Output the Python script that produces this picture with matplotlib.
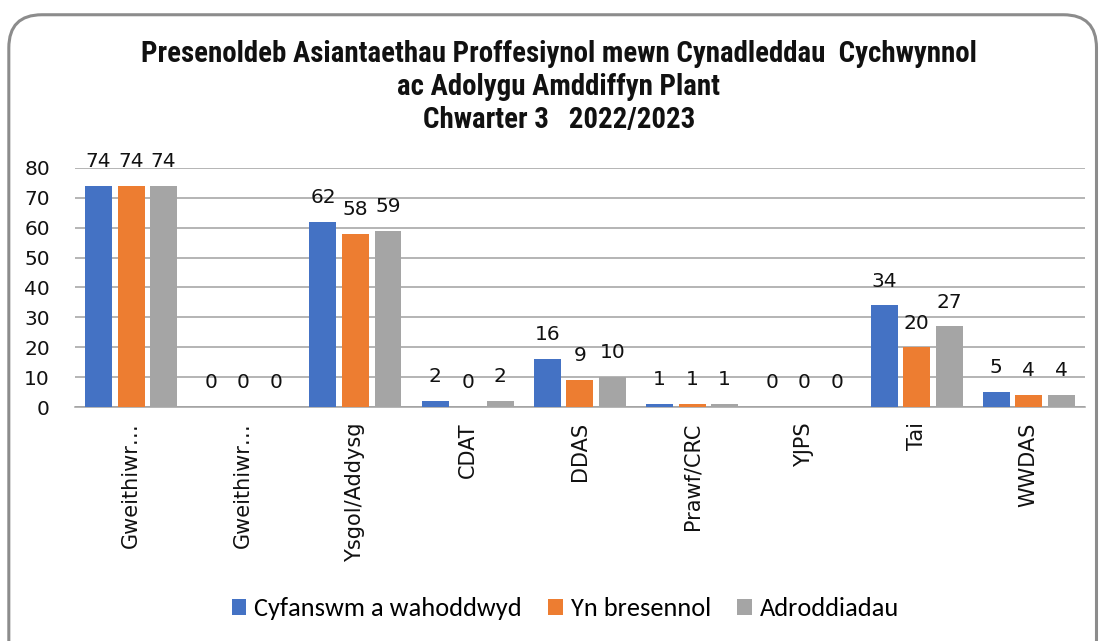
import numpy as np
import matplotlib.pyplot as plt
from matplotlib.patches import FancyBboxPatch

# data
categories = ["Gweithiwr…", "Gweithiwr…", "Ysgol/Addysg", "CDAT", "DDAS",
              "Prawf/CRC", "YJPS", "Tai", "WWDAS"]
invited = [74, 0, 62, 2, 16, 1, 0, 34, 5]
present = [74, 0, 58, 0, 9, 1, 0, 20, 4]
reports = [74, 0, 59, 2, 10, 1, 0, 27, 4]
series_names = ["Cyfanswm a wahoddwyd", "Yn bresennol", "Adroddiadau"]
colors = ["#4472C4", "#ED7D31", "#A5A5A5"]

label_font = "DejaVu Sans"
title_font = "Roboto Condensed"
legend_font = "Carlito"

fig = plt.figure(figsize=(11.02, 6.41), dpi=100)
ax = fig.add_axes([0.068, 0.365, 0.9165, 0.373])

# rounded chart border
border = FancyBboxPatch((0.008, -0.05), 0.987, 1.027,
                        boxstyle="round,pad=0,rounding_size=0.03",
                        transform=fig.transFigure, fill=False,
                        edgecolor="#8c8c8c", linewidth=2.2,
                        mutation_aspect=1102/641)
fig.patches.append(border)

x = np.arange(len(categories))
step = 0.29
width = 0.24
for i, (vals, name, c) in enumerate(zip([invited, present, reports], series_names, colors)):
    bars = ax.bar(x + (i - 1) * step, vals, width, color=c, label=name, zorder=3)
    for b, v in zip(bars, vals):
        ax.annotate(str(v), (b.get_x() + b.get_width() / 2, v),
                    xytext=(0, 13.5), textcoords="offset points",
                    ha="center", va="baseline", fontsize=14.5,
                    family=label_font, color="#111111")

ax.set_ylim(0, 80)
ax.set_xlim(-0.5, len(categories) - 0.5)
ax.set_yticks(range(0, 81, 10))
ax.yaxis.grid(True, color="#a0a0a0", linewidth=1.1, zorder=0)
ax.set_axisbelow(True)
for s in ["top", "right", "left"]:
    ax.spines[s].set_visible(False)
ax.spines["bottom"].set_color("#a0a0a0")
ax.spines["bottom"].set_linewidth(1.1)
ax.tick_params(length=0)
ax.tick_params(axis="y", pad=18)
ax.set_yticklabels([str(v) for v in range(0, 81, 10)], fontsize=14.5,
                   family=label_font, color="#111111")
ax.set_xticks(x)
ax.set_xticklabels(categories, rotation=90, fontsize=15, family=label_font,
                   va="top", ha="center", color="#111111")
ax.tick_params(axis="x", pad=11)

fig.text(0.507, 0.864, "Presenoldeb Asiantaethau Proffesiynol mewn Cynadleddau  Cychwynnol\n"
         "ac Adolygu Amddiffyn Plant\nChwarter 3   2022/2023",
         ha="center", va="center", fontsize=20.8, fontweight="bold",
         family=title_font, linespacing=1.23, color="#111111")

fig.legend(loc="center", bbox_to_anchor=(0.513, 0.05), ncol=3, frameon=False,
           prop={"family": legend_font, "size": 19}, handlelength=0.55,
           handleheight=0.55, handletextpad=0.3, columnspacing=1.0)

fig.savefig("out.png", dpi=100)
